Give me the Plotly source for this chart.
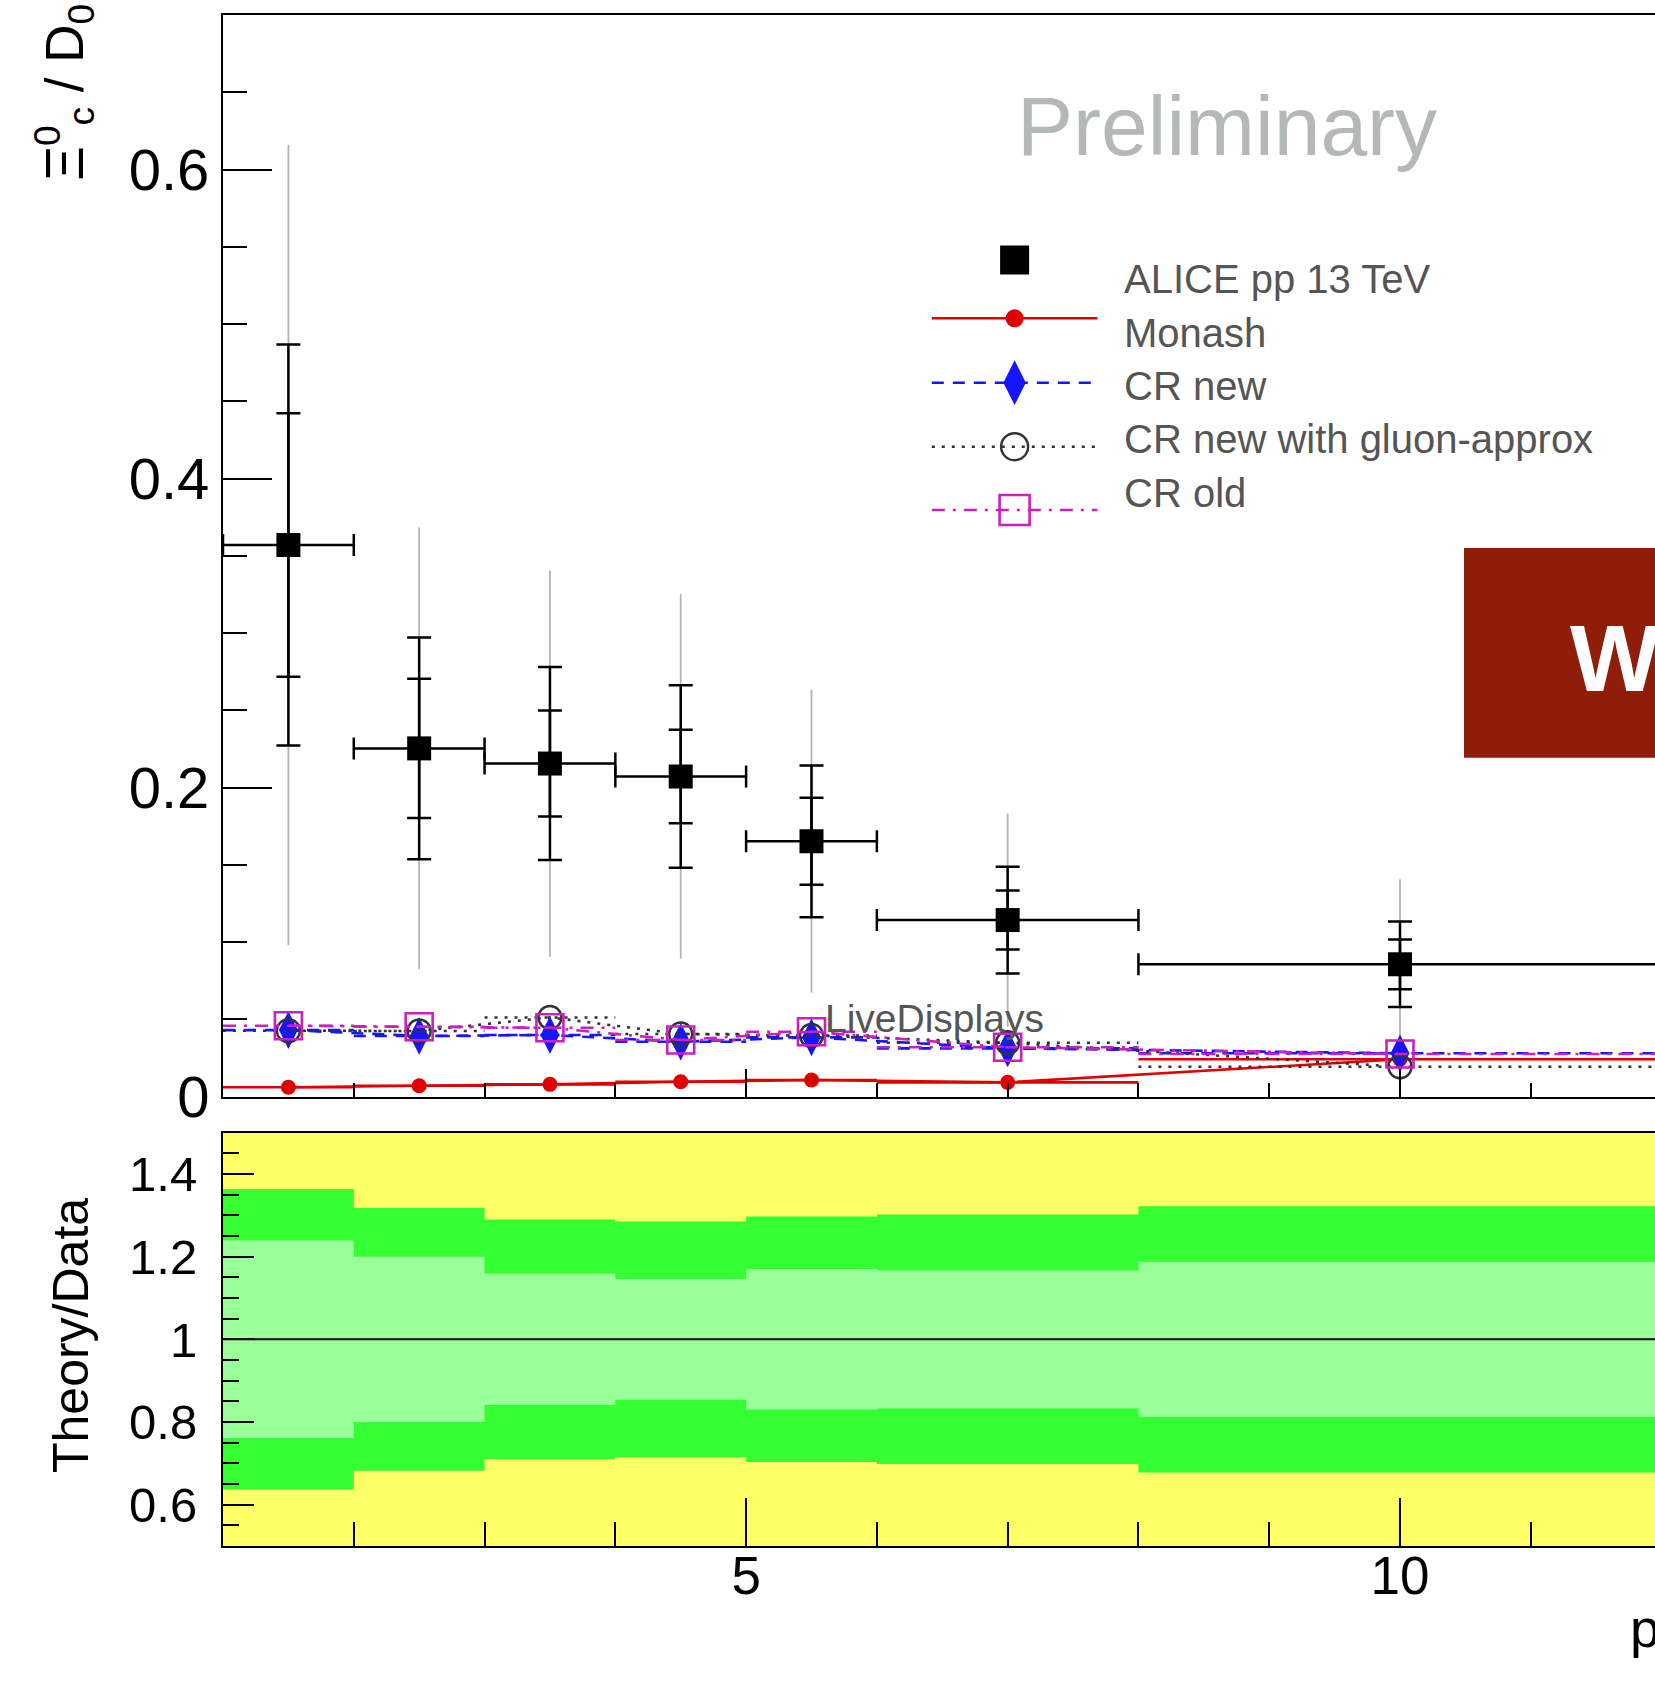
import plotly.graph_objects as go

W = 1655
H_REF = 1690          # pixel frame used for all positions below
H = 1723              # layout height (compensates the vertical squeeze seen in the render)
FONT = "Liberation Sans, Arial, Helvetica, sans-serif"

# ---------------- data ----------------
bin_lo = [1, 2, 3, 4, 5, 6, 8]
bin_hi = [2, 3, 4, 5, 6, 8, 12]
pt = [1.5, 2.5, 3.5, 4.5, 5.5, 7, 10]

data_val = [0.357, 0.2254, 0.2156, 0.2072, 0.1653, 0.1143, 0.0857]
err_stat = [0.0853, 0.0451, 0.0343, 0.0303, 0.0281, 0.0191, 0.0161]
err_tot = [0.1298, 0.0717, 0.0625, 0.0591, 0.0491, 0.0345, 0.0276]
err_extra = [0.259, 0.143, 0.125, 0.118, 0.098, 0.069, 0.055]

monash = [0.0061, 0.0071, 0.0080, 0.0097, 0.0108, 0.0093, 0.0242]
cr_new = [0.0431, 0.0393, 0.0399, 0.0356, 0.0384, 0.0313, 0.0281]
cr_gluon = [0.0427, 0.0425, 0.0513, 0.0406, 0.0396, 0.0349, 0.0194]
cr_old = [0.0459, 0.0453, 0.0446, 0.0367, 0.0420, 0.0320, 0.0276]

legend_labels = ["ALICE pp 13 TeV", "Monash", "CR new", "CR new with gluon-approx", "CR old"]

main_yticks = [0, 0.2, 0.4, 0.6]
main_yticktext = ["0", "0.2", "0.4", "0.6"]
ratio_yticks = [0.6, 0.8, 1.0, 1.2, 1.4]
ratio_yticktext = ["0.6", "0.8", "1", "1.2", "1.4"]
xticks = [5, 10]
xticktext = ["5", "10"]


def px(x):
    return x / W


def py(y):
    return 1 - y / H_REF


fig = go.Figure()

# ---------------- ratio panel bands ----------------
def band(rel):
    xs, ys = [], []
    for lo, hi, r in zip(bin_lo, bin_hi, rel):
        xs += [lo, hi]
        ys += [1 + r, 1 + r]
    for lo, hi, r in reversed(list(zip(bin_lo, bin_hi, rel))):
        xs += [hi, lo]
        ys += [1 - r, 1 - r]
    return xs, ys


rel_extra = [e / v for e, v in zip(err_extra, data_val)]
rel_tot = [e / v for e, v in zip(err_tot, data_val)]
rel_stat = [e / v for e, v in zip(err_stat, data_val)]

for rel, col in [(rel_extra, "#ffff66"), (rel_tot, "#33ff33"), (rel_stat, "#99ff99")]:
    bx, by = band(rel)
    fig.add_trace(go.Scatter(x=bx, y=by, fill="toself", fillcolor=col, mode="lines",
                             line=dict(width=0, color=col), xaxis="x2", yaxis="y2",
                             hoverinfo="skip"))

# ---------------- main panel: data ----------------
fig.add_trace(go.Scatter(x=pt, y=data_val, mode="markers",
                         marker=dict(size=1, color="rgba(0,0,0,0)"),
                         error_y=dict(type="data", array=err_extra, color="#b4b4b4",
                                      thickness=1.8, width=0),
                         xaxis="x", yaxis="y"))
fig.add_trace(go.Scatter(x=pt, y=data_val, mode="markers",
                         marker=dict(size=1, color="rgba(0,0,0,0)"),
                         error_y=dict(type="data", array=err_tot, color="black",
                                      thickness=2.5, width=12),
                         xaxis="x", yaxis="y"))
fig.add_trace(go.Scatter(x=pt, y=data_val, mode="markers",
                         marker=dict(size=1, color="rgba(0,0,0,0)"),
                         error_y=dict(type="data", array=err_stat, color="black",
                                      thickness=2.5, width=12),
                         xaxis="x", yaxis="y"))
half_w = [(hi - lo) / 2 for lo, hi in zip(bin_lo, bin_hi)]
fig.add_trace(go.Scatter(x=pt, y=data_val, mode="markers",
                         marker=dict(symbol="square", size=24, color="black"),
                         error_x=dict(type="data", array=half_w, color="black",
                                      thickness=2.5, width=11),
                         xaxis="x", yaxis="y"))

# ---------------- main panel: models ----------------
def seg_xy(vals):
    xs, ys = [], []
    for lo, hi, v in zip(bin_lo, bin_hi, vals):
        xs += [lo, hi, None]
        ys += [v, v, None]
    return xs, ys


models = [
    (monash, "#e00000", "solid", dict(symbol="circle", size=15, color="#e00000")),
    (cr_new, "#1515ff", "12px,9px", dict(symbol="diamond-tall", size=27, color="#1515ff")),
    (cr_gluon, "#333333", "3px,7px", dict(symbol="circle-open", size=23, color="#333333",
                                           line=dict(width=2.4, color="#333333"))),
    (cr_old, "#cc1fbf", "13px,8px,3px,8px", dict(symbol="square-open", size=27, color="#cc1fbf",
                                                  line=dict(width=2.6, color="#cc1fbf"))),
]
for vals, col, dash, mk in models:
    sx, sy = seg_xy(vals)
    fig.add_trace(go.Scatter(x=sx, y=sy, mode="lines", line=dict(color=col, width=2.6, dash=dash),
                             xaxis="x", yaxis="y", hoverinfo="skip"))
    fig.add_trace(go.Scatter(x=pt, y=vals, mode="lines+markers",
                             line=dict(color=col, width=2.6, dash=dash), marker=mk,
                             xaxis="x", yaxis="y"))

# ---------------- legend (drawn in a pixel overlay) ----------------
leg_sym_y = [260, 318.3, 382.7, 446.7, 510]
leg_text_base = [293.3, 346.7, 400, 453.3, 506.7]
lx0, lx1, lxm = 931.8, 1097.4, 1014.6
fig.add_trace(go.Scatter(x=[lxm], y=[leg_sym_y[0]], mode="markers",
                         marker=dict(symbol="square", size=29, color="black"),
                         xaxis="x3", yaxis="y3"))
leg_marks = [
    dict(symbol="circle", size=18, color="#e00000"),
    dict(symbol="diamond-tall", size=32, color="#1515ff"),
    dict(symbol="circle-open", size=27, color="#333333", line=dict(width=2.4, color="#333333")),
    dict(symbol="square-open", size=30, color="#cc1fbf", line=dict(width=2.6, color="#cc1fbf")),
]
for i, ((vals, col, dash, _), mk) in enumerate(zip(models, leg_marks)):
    yy = leg_sym_y[i + 1]
    fig.add_trace(go.Scatter(x=[lx0, lx1], y=[yy, yy], mode="lines",
                             line=dict(color=col, width=2.6, dash=dash),
                             xaxis="x3", yaxis="y3"))
    fig.add_trace(go.Scatter(x=[lxm], y=[yy], mode="markers", marker=mk,
                             xaxis="x3", yaxis="y3"))

LEGF = 40
annotations = []
for lab, base in zip(legend_labels, leg_text_base):
    annotations.append(dict(text=lab, x=px(1122), y=py(base - 0.3465 * LEGF), xref="paper",
                            yref="paper", xanchor="left", yanchor="middle", showarrow=False,
                            font=dict(size=LEGF, color="#555555", family=FONT)))

annotations += [
    dict(text="Preliminary", x=px(1015), y=py(155 - 0.3465 * 84), xref="paper", yref="paper",
         xanchor="left", yanchor="middle", showarrow=False,
         font=dict(size=84, color="#b4b8b6", family=FONT)),
    dict(text="LiveDisplays", x=px(823), y=py(1031.7 - 0.3465 * 39), xref="paper", yref="paper",
         xanchor="left", yanchor="middle", showarrow=False,
         font=dict(size=39, color="#555555", family=FONT)),
    dict(text="<b>W</b>", x=px(1568), y=py(690.7 - 0.3465 * 95), xref="paper", yref="paper",
         xanchor="left", yanchor="middle", showarrow=False,
         font=dict(size=95, color="white", family=FONT)),
    dict(text="Theory/Data", x=px(71), y=py(1336), xref="paper", yref="paper",
         xanchor="center", yanchor="middle", textangle=-90, showarrow=False,
         font=dict(size=50, color="black", family=FONT)),
    dict(text="Ξ<sup>0</sup><sub>c</sub> / D<sub>0</sub>", x=px(64), y=py(2), xref="paper",
         yref="paper", xanchor="center", yanchor="top", textangle=-90, showarrow=False,
         font=dict(size=53, color="black", family=FONT)),
    dict(text="p<sub>T</sub> (GeV/<i>c</i>)", x=px(1628), y=py(1651 - 0.3465 * 54), xref="paper",
         yref="paper", xanchor="left", yanchor="middle", showarrow=False,
         font=dict(size=54, color="black", family=FONT)),
]

shapes = [
    dict(type="rect", xref="paper", yref="paper", x0=px(1464), x1=1.0, y0=py(757.7), y1=py(548),
         fillcolor="#8f1d0a", line=dict(width=0), layer="above"),
    dict(type="line", xref="x2 domain", yref="y2", x0=0, x1=1, y0=1, y1=1,
         line=dict(color="black", width=2), layer="above"),
]

xdom = [px(223), 1.0]
xr = [1, 11.95]
common_axis = dict(showgrid=False, zeroline=False, showline=True, linecolor="black", linewidth=2,
                   ticks="inside", tickcolor="black", tickwidth=2)

fig.update_layout(
    width=W, height=H, autosize=False,
    margin=dict(l=0, r=0, t=0, b=H - H_REF, pad=0),
    paper_bgcolor="white", plot_bgcolor="rgba(0,0,0,0)", showlegend=False,
    font=dict(family=FONT, color="black"),
    xaxis=dict(domain=xdom, range=xr, anchor="y", mirror=True, tickvals=xticks,
               showticklabels=False, ticklen=28,
               minor=dict(dtick=1, tick0=0, ticklen=14, ticks="inside", tickcolor="black",
                          tickwidth=2), **common_axis),
    yaxis=dict(domain=[py(1096.7), py(15)], range=[0, 0.7], anchor="x", tickvals=main_yticks,
               ticktext=main_yticktext, ticklen=49, tickfont=dict(size=58),
               minor=dict(dtick=0.05, tick0=0, ticklen=24, ticks="inside", tickcolor="black",
                          tickwidth=2), **common_axis),
    xaxis2=dict(domain=xdom, range=xr, anchor="y2", mirror=True, tickvals=xticks,
                ticktext=xticktext, ticklen=48, tickfont=dict(size=53), ticklabelstandoff=-18,
                minor=dict(dtick=1, tick0=0, ticklen=24, ticks="inside", tickcolor="black",
                           tickwidth=2), **common_axis),
    yaxis2=dict(domain=[py(1546), py(1132.7)], range=[0.5, 1.5], anchor="x2",
                tickvals=ratio_yticks, ticktext=ratio_yticktext, ticklen=31,
                tickfont=dict(size=49), ticklabelstandoff=14,
                minor=dict(dtick=0.05, tick0=0, ticklen=16, ticks="inside", tickcolor="black",
                           tickwidth=2), **common_axis),
    xaxis3=dict(domain=[0, 1], range=[0, W], anchor="y3", visible=False),
    yaxis3=dict(domain=[0, 1], range=[H_REF, 0], anchor="x3", visible=False),
    annotations=annotations,
    shapes=shapes,
)

post = ("document.documentElement.style.overflow='hidden';"
        "document.body.style.overflow='hidden';document.body.style.margin='0';")
fig.write_html("out.html", post_script=post, config={"responsive": False})
